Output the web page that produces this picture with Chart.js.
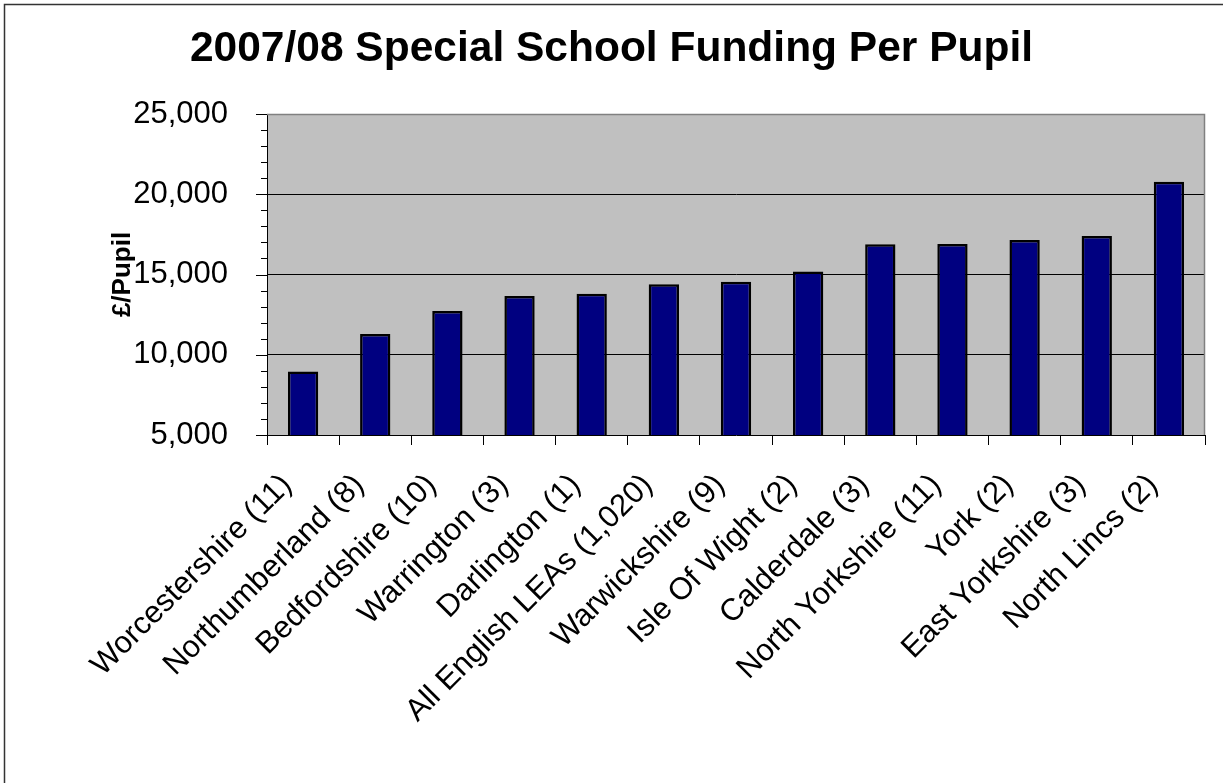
<!DOCTYPE html>
<html>
<head>
<meta charset="utf-8">
<script src="https://cdn.jsdelivr.net/npm/chart.js@4/dist/chart.umd.min.js"></script>
<style>
  html, body { margin: 0; padding: 0; background: #fff; }
  #wrap { width: 1223px; height: 783px; position: relative; }
</style>
</head>
<body>
<div id="wrap"><canvas id="fundingChart"></canvas></div>
<script>
// Special school funding per pupil, 2007/08 (number of schools in brackets)
const authorities = [
    "Worcestershire (11)", "Northumberland (8)", "Bedfordshire (10)",
    "Warrington (3)", "Darlington (1)", "All English LEAs (1,020)",
    "Warwickshire (9)", "Isle Of Wight (2)", "Calderdale (3)",
    "North Yorkshire (11)", "York (2)", "East Yorkshire (3)", "North Lincs (2)"
];
const perPupil = [
    8950, 11290, 12730, 13660, 13800, 14400,
    14550, 15180, 16880, 16900, 17150, 17400, 20780
];
const yMin = 5000;
const yMax = 25000;
const yMajorStep = 5000;
const yMinorStep = 1000;

const FONT = "'Liberation Sans', Arial, sans-serif";

// grey plot background, frame, minor ticks and the outer chart border
const excelFrame = {
    id: "excelFrame",
    beforeDraw(chart) {
        const { ctx, chartArea: a } = chart;
        ctx.save();
        ctx.fillStyle = "#c0c0c0";
        ctx.fillRect(a.left, a.top, a.right - a.left, a.bottom - a.top);
        ctx.restore();
    },
    afterDatasetsDraw(chart) {
        const { ctx, chartArea: a } = chart;
        const y = chart.scales.y;
        ctx.save();
        ctx.strokeStyle = "#808080";
        ctx.lineWidth = 1.5;
        ctx.beginPath();
        ctx.moveTo(a.left, a.top + 0.5);
        ctx.lineTo(a.right - 0.5, a.top + 0.5);
        ctx.lineTo(a.right - 0.5, a.bottom);
        ctx.stroke();

        // tick marks on the value axis
        ctx.strokeStyle = "#000";
        ctx.lineWidth = 1;
        for (let v = yMin; v <= yMax; v += yMinorStep) {
            const py = Math.round(y.getPixelForValue(v)) + 0.5;
            const len = v % yMajorStep === 0 ? 11 : 6;
            ctx.beginPath();
            ctx.moveTo(a.left - len, py);
            ctx.lineTo(a.left, py);
            ctx.stroke();
        }

        ctx.strokeStyle = "#333";
        ctx.lineWidth = 1.5;
        ctx.beginPath();
        ctx.moveTo(4.5, chart.height + 5);
        ctx.lineTo(4.5, 4.5);
        ctx.lineTo(chart.width + 5, 4.5);
        ctx.stroke();
        ctx.restore();
    }
};

const ctx = document.getElementById("fundingChart").getContext("2d");
new Chart(ctx, {
    type: "bar",
    data: {
        labels: authorities,
        datasets: [{
            data: perPupil,
            backgroundColor: "#000080",
            borderColor: "#000",
            borderWidth: 2.5,
            borderSkipped: false,
            barPercentage: 0.42,
            categoryPercentage: 1,
        }],
    },
    options: {
        responsive: true,
        maintainAspectRatio: false,
        animation: false,
        layout: { padding: { left: 18, right: 18, top: 0, bottom: 0 } },
        plugins: {
            legend: { display: false },
            tooltip: { enabled: false },
            title: {
                display: true,
                text: "2007/08 Special School Funding Per Pupil",
                color: "#000",
                font: { family: FONT, size: 42.5, weight: "bold" },
                padding: { top: 24, bottom: 39 },
            },
        },
        scales: {
            x: {
                afterFit: (scale) => { scale.height = 348; },
                grid: {
                    drawOnChartArea: false,
                    drawTicks: true,
                    tickLength: 10,
                    tickColor: "#000",
                },
                border: { display: true, color: "#000", width: 1 },
                ticks: {
                    autoSkip: false,
                    maxRotation: 45,
                    minRotation: 45,
                    padding: 22,
                    labelOffset: -16,
                    color: "#000",
                    font: { family: FONT, size: 31 },
                },
            },
            y: {
                min: yMin,
                max: yMax,
                afterFit: (scale) => { scale.width = 249; },
                grid: {
                    drawTicks: false,
                    color: (c) => {
                        const v = c.tick ? c.tick.value : null;
                        return v !== null && v > yMin && v < yMax ? "#000" : "rgba(0,0,0,0)";
                    },
                },
                border: { display: true, color: "#000", width: 1 },
                ticks: {
                    stepSize: yMajorStep,
                    padding: 39,
                    color: "#000",
                    font: { family: FONT, size: 31 },
                    callback: (v) => Number(v).toLocaleString("en-US"),
                },
                title: {
                    display: true,
                    text: "£/Pupil",
                    color: "#000",
                    font: { family: FONT, size: 26, weight: "bold" },
                    padding: { top: 89, bottom: 0 },
                },
            },
        },
    },
    plugins: [excelFrame],
});
</script>
</body>
</html>
